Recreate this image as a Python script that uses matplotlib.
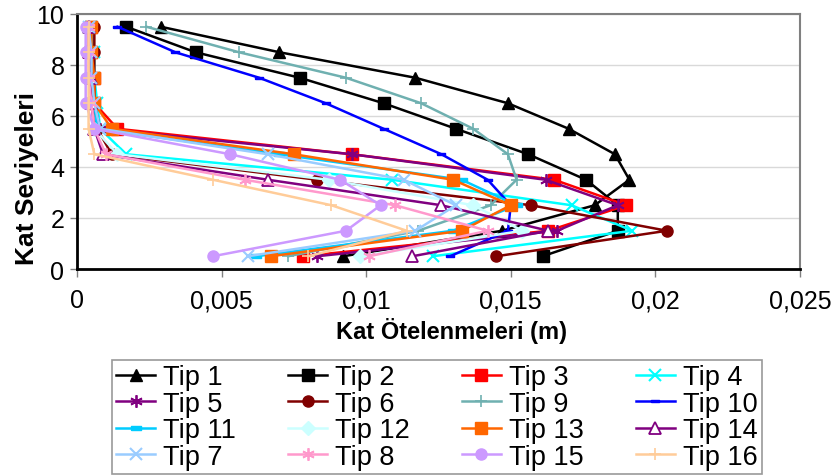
import matplotlib
matplotlib.use("Agg")
import matplotlib.pyplot as plt
from matplotlib.ticker import FixedLocator, FixedFormatter

plt.rcParams['font.family'] = ['Liberation Sans', 'DejaVu Sans']

# Storey mid-levels (0.5 ... 9.5)
levels = [0.5, 1.5, 2.5, 3.5, 4.5, 5.5, 6.5, 7.5, 8.5, 9.5]

# Storey drifts (m), listed from the lowest storey upward
tip1 = [0.0092, 0.0147, 0.0179, 0.0191, 0.0186, 0.0170, 0.0149, 0.0117, 0.0070, 0.0029]
tip2 = [0.0161, 0.0187, 0.0187, 0.0176, 0.0156, 0.0131, 0.0106, 0.0077, 0.0041, 0.0017]
tip3 = [0.0078, 0.0163, 0.0190, 0.0165, 0.0095, 0.0014, 0.0006, 0.0006, 0.0005, 0.0005]
tip4 = [0.0123, 0.0192, 0.0171, 0.0109, 0.0017, 0.0008, 0.0007, 0.0006, 0.0006, 0.0005]
tip5 = [0.0083, 0.0166, 0.0187, 0.0162, 0.0095, 0.0008, 0.0006, 0.0006, 0.0005, 0.0005]
tip6 = [0.0145, 0.0204, 0.0157, 0.0083, 0.0012, 0.0007, 0.0006, 0.0006, 0.0006, 0.0006]
tip9 = [0.0073, 0.0118, 0.0143, 0.0152, 0.0149, 0.0137, 0.0119, 0.0093, 0.0056, 0.0024]
tip10 = [0.0129, 0.0149, 0.0150, 0.0142, 0.0126, 0.0106, 0.0086, 0.0063, 0.0034, 0.0014]
tip11 = [0.0062, 0.0130, 0.0152, 0.0133, 0.0070, 0.0007, 0.0006, 0.0005, 0.0005, 0.0005]
tip12 = [0.0098, 0.0154, 0.0137, 0.0087, 0.0014, 0.0006, 0.0005, 0.0005, 0.0004, 0.0004]
tip13 = [0.0067, 0.0133, 0.0150, 0.0130, 0.0075, 0.0012, 0.0006, 0.0006, 0.0005, 0.0005]
tip14 = [0.0116, 0.0163, 0.0126, 0.0066, 0.0009, 0.0006, 0.0005, 0.0005, 0.0004, 0.0004]
tip7 = [0.0059, 0.0117, 0.0131, 0.0113, 0.0066, 0.0008, 0.0006, 0.0005, 0.0005, 0.0004]
tip8 = [0.0101, 0.0142, 0.0110, 0.0058, 0.0010, 0.0006, 0.0005, 0.0004, 0.0004, 0.0004]
tip15 = [0.0047, 0.0093, 0.0105, 0.0091, 0.0053, 0.0006, 0.0003, 0.0003, 0.0003, 0.0003]
tip16 = [0.0080, 0.0114, 0.0088, 0.0047, 0.0006, 0.0004, 0.0004, 0.0004, 0.0004, 0.0004]

series_names = ["Tip 1", "Tip 2", "Tip 3", "Tip 4",
                "Tip 5", "Tip 6", "Tip 9", "Tip 10",
                "Tip 11", "Tip 12", "Tip 13", "Tip 14",
                "Tip 7", "Tip 8", "Tip 15", "Tip 16"]
series_values = [tip1, tip2, tip3, tip4,
                 tip5, tip6, tip9, tip10,
                 tip11, tip12, tip13, tip14,
                 tip7, tip8, tip15, tip16]

x_ticks = [0, 0.005, 0.01, 0.015, 0.02, 0.025]
x_tick_labels = ["0", "0,005", "0,01", "0,015", "0,02", "0,025"]
y_ticks = [0, 2, 4, 6, 8, 10]

dash = [(-1, -0.35), (1, -0.35), (1, 0.35), (-1, 0.35), (-1, -0.35)]
asterisk = (6, 2, 0)

styles = {
    "Tip 1": dict(color="#000000", marker="^", ms=8),
    "Tip 2": dict(color="#000000", marker="s", ms=8),
    "Tip 3": dict(color="#FF0000", marker="s", ms=8),
    "Tip 4": dict(color="#00FFFF", marker="x", ms=8, mew=1.5),
    "Tip 5": dict(color="#800080", marker=asterisk, ms=9, mew=1.3),
    "Tip 6": dict(color="#800000", marker="o", ms=8),
    "Tip 9": dict(color="#6FB0B0", marker="+", ms=9, mew=1.2),
    "Tip 10": dict(color="#0000FF", marker=dash, ms=6),
    "Tip 11": dict(color="#00CCFF", marker=dash, ms=7),
    "Tip 12": dict(color="#CCFFFF", marker="D", ms=7),
    "Tip 13": dict(color="#FF6600", marker="s", ms=8),
    "Tip 14": dict(color="#800080", marker="^", ms=8, mfc="white", mew=1.3),
    "Tip 7": dict(color="#99CCFF", marker="x", ms=8, mew=1.5),
    "Tip 8": dict(color="#FF99CC", marker=asterisk, ms=9, mew=1.3),
    "Tip 15": dict(color="#CC99FF", marker="o", ms=8),
    "Tip 16": dict(color="#FFCC99", marker="+", ms=9, mew=1.2),
}

fig = plt.figure(figsize=(8.37, 4.77), dpi=100)
ax = fig.add_axes([77 / 837, 1 - 270 / 477, 723 / 837, 255 / 477])

handles = {}
for name, vals in zip(series_names, series_values):
    st = dict(styles[name])
    color = st.pop("color")
    st.setdefault("mfc", color)
    st.setdefault("mec", color)
    line, = ax.plot(vals, levels, color=color, lw=1.8, label=name, **st)
    handles[name] = line

ax.set_xlim(0, 0.025)
ax.set_ylim(0, 10)
ax.xaxis.set_major_locator(FixedLocator(x_ticks))
ax.xaxis.set_major_formatter(FixedFormatter(x_tick_labels))
ax.yaxis.set_major_locator(FixedLocator(y_ticks))

ax.grid(axis="y", color="#d9d9d9", lw=1)
ax.set_axisbelow(True)

for side in ("left", "bottom"):
    ax.spines[side].set_color("black")
    ax.spines[side].set_linewidth(2)
for side in ("top", "right"):
    ax.spines[side].set_color("#808080")
    ax.spines[side].set_linewidth(1.5)

ax.tick_params(axis="x", direction="out", length=6, width=1, pad=8,
               labelsize=18, color="#808080")
ax.tick_params(axis="y", direction="out", length=5, width=1, pad=4,
               labelsize=18, color="#808080")

ax.set_xlabel("Kat Ötelenmeleri (m)", fontsize=17, fontweight="bold")
ax.xaxis.set_label_coords(374 / 723, -0.19)
ax.set_ylabel("Kat Seviyeleri", fontsize=19, fontweight="bold")
ax.yaxis.set_label_coords(-0.052, 0.36)

# Legend laid out in rows of four, filled column by column
ncol = 4
nrow = len(series_names) // ncol
order = [series_names[r * ncol + c] for c in range(ncol) for r in range(nrow)]
leg = fig.legend([handles[n] for n in order], order, ncol=ncol,
                 loc="lower left",
                 bbox_to_anchor=(112 / 837, 2 / 477, 650 / 837, 122 / 477),
                 mode="expand", fontsize=19.5, frameon=True, fancybox=False,
                 edgecolor="#999999", framealpha=1, labelspacing=0.02,
                 handlelength=1.45, handletextpad=0.3, borderpad=0.15,
                 columnspacing=0.4, borderaxespad=0)
leg.get_frame().set_linewidth(1.2)

fig.savefig("out.png", dpi=100)
